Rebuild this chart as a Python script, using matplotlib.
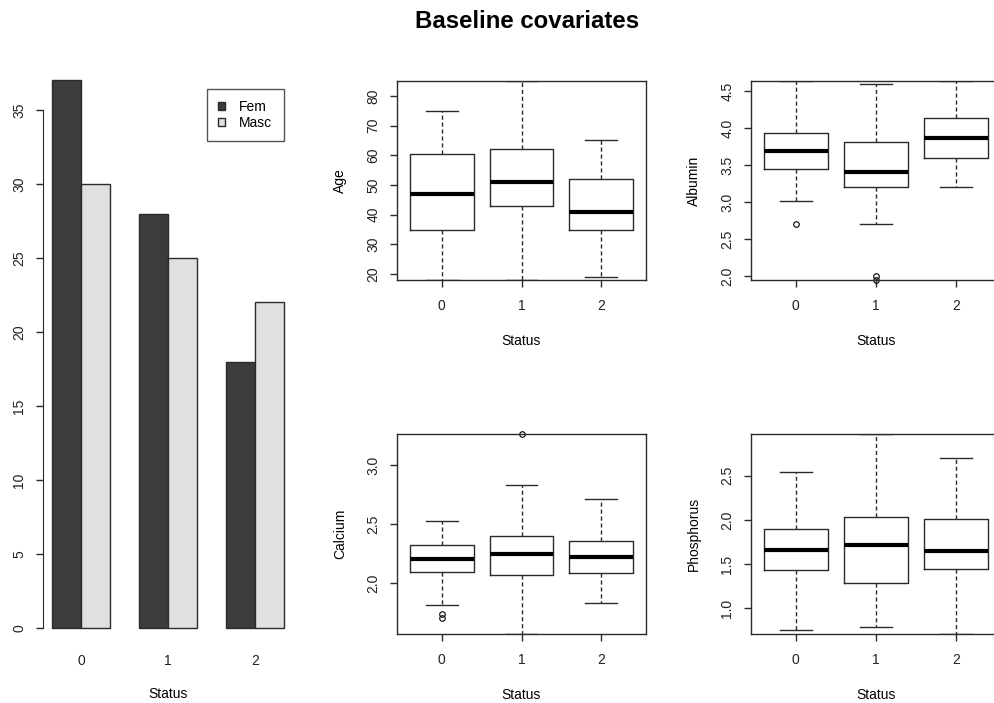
import matplotlib.pyplot as plt
import numpy as np

plt.rcParams['font.family'] = ['Liberation Sans', 'DejaVu Sans']
plt.rcParams['font.size'] = 10

# counts by status and sex
status = ['0', '1', '2']
fem = [37, 28, 18]
masc = [30, 25, 22]

# box summaries per status group: q1, median, q3, whisker ends, outliers
age_q1 = [35, 43, 35]
age_med = [47, 51, 41]
age_q3 = [60.5, 62, 52]
age_lo = [18, 18, 19]
age_hi = [75, 85, 65]
age_out = [[], [], []]

alb_q1 = [3.45, 3.20, 3.60]
alb_med = [3.69, 3.41, 3.87]
alb_q3 = [3.93, 3.81, 4.13]
alb_lo = [3.02, 2.70, 3.20]
alb_hi = [4.64, 4.60, 4.64]
alb_out = [[2.70], [2.00, 1.945], []]

cal_q1 = [2.095, 2.07, 2.09]
cal_med = [2.205, 2.245, 2.225]
cal_q3 = [2.32, 2.40, 2.355]
cal_lo = [1.82, 1.57, 1.836]
cal_hi = [2.53, 2.83, 2.71]
cal_out = [[1.737, 1.705], [3.26], []]

pho_q1 = [1.43, 1.29, 1.45]
pho_med = [1.66, 1.72, 1.65]
pho_q3 = [1.90, 2.03, 2.01]
pho_lo = [0.75, 0.79, 0.71]
pho_hi = [2.54, 2.97, 2.70]
pho_out = [[], [], []]

LINE = '#2b2b2b'
W, H = 995, 703


def px_axes(fig, x0, y0, x1, y1):
    # place an axes from pixel corners (top-left origin)
    return fig.add_axes([x0 / W, 1 - y1 / H, (x1 - x0) / W, (y1 - y0) / H])


def r_ticks(ax):
    ax.tick_params(axis='both', direction='out', length=5, width=1, color=LINE,
                   labelsize=10, labelcolor='#222222')
    ax.tick_params(axis='x', pad=9)
    ax.tick_params(axis='y', pad=7, labelrotation=90)
    for lab in ax.get_yticklabels():
        lab.set_va('center')


def box_panel(ax, q1, med, q3, lo, hi, out, ylim, yticks, fmt, ylabel):
    stats = []
    for i in range(len(status)):
        stats.append({'q1': q1[i], 'med': med[i], 'q3': q3[i],
                      'whislo': lo[i], 'whishi': hi[i], 'fliers': out[i]})
    ax.bxp(stats, positions=range(len(status)), widths=0.8, capwidths=0.4,
           boxprops=dict(color=LINE, lw=1),
           medianprops=dict(color='black', lw=3, solid_capstyle='butt'),
           whiskerprops=dict(color=LINE, lw=1, linestyle=(0, (3, 2))),
           capprops=dict(color=LINE, lw=1),
           flierprops=dict(marker='o', ms=4, mfc='none', mec='black', mew=0.8,
                           clip_on=False))
    ax.set_xlim(-0.56, 2.56)
    ax.set_ylim(*ylim)
    ax.set_xticks(range(len(status)))
    ax.set_xticklabels(status)
    ax.set_yticks(yticks)
    ax.set_yticklabels([fmt.format(v) for v in yticks])
    for s in ax.spines.values():
        s.set_color(LINE)
        s.set_linewidth(1)
    r_ticks(ax)
    h = ax.get_position().height * H
    w = ax.get_position().width * W
    ax.set_xlabel('Status', fontsize=10)
    ax.xaxis.set_label_coords(0.5, -54 / h)
    ax.set_ylabel(ylabel, fontsize=10)
    ax.yaxis.set_label_coords(-50 / w, 0.5)


fig = plt.figure(figsize=(W / 100, H / 100), dpi=100)
fig.text(527 / W, 1 - 28.3 / H, 'Baseline covariates', fontsize=17.3,
         fontweight='bold', ha='center', va='baseline')

# grouped bar chart of counts
ax = px_axes(fig, 42.7, 58.5, 293.3, 650)
grp = np.arange(len(status)) * 3
ax.bar(grp + 1.5, fem, width=1, color='#3c3c3c', edgecolor=LINE, lw=1, label='Fem')
ax.bar(grp + 2.5, masc, width=1, color='#e0e0e0', edgecolor=LINE, lw=1, label='Masc')
ax.set_xlim(0.68, 9.32)
ax.set_ylim(-1.48, 38.48)
for name in ['top', 'right', 'bottom']:
    ax.spines[name].set_visible(False)
ax.spines['left'].set_bounds(0, 35)
ax.spines['left'].set_color(LINE)
ax.set_yticks(np.arange(0, 36, 5))
ax.set_xticks(grp + 2)
ax.set_xticklabels(status)
r_ticks(ax)
ax.tick_params(axis='x', length=0, pad=3)
ax.set_xlabel('Status', fontsize=10)
ax.xaxis.set_label_coords(0.5, -37 / 591.5)
leg = ax.legend(loc='upper right', bbox_to_anchor=(0.961, 0.9484), fancybox=False,
                edgecolor=LINE, handlelength=0.5, handleheight=0.5,
                handletextpad=1.0, borderpad=0.8, labelspacing=0.1, fontsize=10,
                borderaxespad=0)
leg.get_frame().set_linewidth(1)

ax = px_axes(fig, 397, 81, 646, 280)
box_panel(ax, age_q1, age_med, age_q3, age_lo, age_hi, age_out,
          (18, 85), [20, 30, 40, 50, 60, 70, 80], '{:.0f}', 'Age')

ax = px_axes(fig, 751, 81, 1001, 280)
box_panel(ax, alb_q1, alb_med, alb_q3, alb_lo, alb_hi, alb_out,
          (1.946, 4.635), [2.0, 2.5, 3.0, 3.5, 4.0, 4.5], '{:.1f}', 'Albumin')

ax = px_axes(fig, 397, 434, 646, 634)
box_panel(ax, cal_q1, cal_med, cal_q3, cal_lo, cal_hi, cal_out,
          (1.571, 3.262), [2.0, 2.5, 3.0], '{:.1f}', 'Calcium')

ax = px_axes(fig, 751, 434, 1001, 634)
box_panel(ax, pho_q1, pho_med, pho_q3, pho_lo, pho_hi, pho_out,
          (0.709, 2.973), [1.0, 1.5, 2.0, 2.5], '{:.1f}', 'Phosphorus')

fig.savefig('out.png', dpi=100)
